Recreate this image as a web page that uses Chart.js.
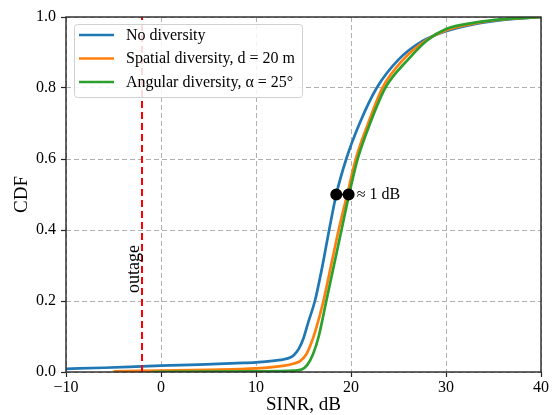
<!DOCTYPE html>
<html>
<head>
<meta charset="utf-8">
<script src="https://cdn.jsdelivr.net/npm/chart.js@4.4.1/dist/chart.umd.min.js"></script>
<style>
  html, body { margin: 0; padding: 0; background: #ffffff; }
  #wrap { width: 556px; height: 415px; }
</style>
</head>
<body>
<div id="wrap"><canvas id="cdf" width="556" height="415"></canvas></div>
<script>
// Empirical SINR CDFs (SINR in dB, cumulative probability)
const seriesNames = ['No diversity', 'Spatial diversity, d = 20 m', 'Angular diversity, \u03b1 = 25\u00b0'];
const seriesColors = ['#1f77b4', '#ff7f0e', '#2ca02c'];

const noDivSinr = [-10, -6, -2, 0, 4, 8, 10, 12, 13, 13.6, 14, 14.5, 15, 15.5, 16.2, 17.0, 17.7, 18.45, 19.5, 20.9, 22.7, 25.0, 27.5, 30, 33, 36, 40];
const noDivCdf  = [0.009, 0.012, 0.016, 0.018, 0.021, 0.025, 0.027, 0.032, 0.036, 0.041, 0.048, 0.065, 0.095, 0.14, 0.20, 0.30, 0.40, 0.50, 0.60, 0.70, 0.80, 0.88, 0.932, 0.960, 0.980, 0.992, 1.0];

const spatialSinr = [-5, 0, 5, 10, 13, 14, 14.6, 15.3, 15.8, 16.3, 17.1, 17.9, 18.7, 19.6, 20.5, 21.8, 23.3, 25.5, 28, 30, 33, 36, 40];
const spatialCdf  = [0.002, 0.004, 0.006, 0.010, 0.018, 0.024, 0.030, 0.050, 0.080, 0.12, 0.20, 0.30, 0.40, 0.50, 0.60, 0.70, 0.80, 0.88, 0.936, 0.963, 0.982, 0.993, 1.0];

const angularSinr = [-1, 5, 10, 14, 14.8, 15.4, 16.0, 16.6, 17.4, 18.2, 19.0, 19.8, 20.7, 22.0, 23.6, 26.0, 28, 30, 33, 36, 40];
const angularCdf  = [0.0, 0.001, 0.002, 0.004, 0.007, 0.02, 0.05, 0.10, 0.20, 0.30, 0.40, 0.50, 0.60, 0.70, 0.80, 0.88, 0.934, 0.966, 0.984, 0.994, 1.0];

// Outage threshold and the median-gap marker
const outageSinr = -2;
const outageLabel = 'outage';
const gapCdf = 0.5;
const gapSinr = [18.45, 19.75];
const gapLabel = '\u2248 1 dB';

// Axis ticks and titles
const xTicks = [-10, 0, 10, 20, 30, 40];
const yTicks = [0, 0.2, 0.4, 0.6, 0.8, 1.0];
const xTitle = 'SINR, dB';
const yTitle = 'CDF';

const SERIF = '"Liberation Serif", "Times New Roman", Times, serif';

const toPoints = (xs, ys) => xs.map((x, i) => ({ x: x, y: ys[i] }));
const sinrValues = [noDivSinr, spatialSinr, angularSinr];
const cdfValues = [noDivCdf, spatialCdf, angularCdf];

const curveSets = seriesNames.map((name, i) => ({
  label: name,
  data: toPoints(sinrValues[i], cdfValues[i]),
  borderColor: seriesColors[i],
  backgroundColor: seriesColors[i],
  borderWidth: 2.7,
  pointRadius: 0,
  cubicInterpolationMode: 'monotone',
  fill: false,
  order: 4 - i
}));

const outageSet = {
  label: outageLabel,
  data: [{ x: outageSinr, y: 0 }, { x: outageSinr, y: 1 }],
  borderColor: '#ff0000',
  borderWidth: 2,
  borderDash: [7, 4],
  pointRadius: 0,
  fill: false,
  order: 1
};

const gapSet = {
  label: gapLabel,
  data: gapSinr.map(x => ({ x: x, y: gapCdf })),
  borderColor: '#000000',
  backgroundColor: '#000000',
  borderWidth: 2,
  pointRadius: 5,
  pointBackgroundColor: '#000000',
  pointBorderColor: '#000000',
  fill: false,
  order: 0
};

const fmtX = v => (v < 0 ? '\u2212' + Math.abs(v) : String(v));
const fmtY = v => Number(v).toFixed(1);

// Frame, legend and text labels drawn on top of the plot
const decorations = {
  id: 'decorations',
  afterDraw(chart) {
    const ctx = chart.ctx;
    const area = chart.chartArea;
    const xs = chart.scales.x;
    const ys = chart.scales.y;

    // outage label, rotated, next to the threshold line
    ctx.save();
    ctx.fillStyle = '#000000';
    ctx.font = '18px ' + SERIF;
    ctx.translate(xs.getPixelForValue(outageSinr) - 3, ys.getPixelForValue(0.29));
    ctx.rotate(-Math.PI / 2);
    ctx.textAlign = 'center';
    ctx.textBaseline = 'alphabetic';
    ctx.fillText(outageLabel, 0, 0);
    ctx.restore();

    // gap label to the right of the second marker
    ctx.save();
    ctx.fillStyle = '#000000';
    ctx.font = '16px ' + SERIF;
    ctx.textAlign = 'left';
    ctx.textBaseline = 'middle';
    ctx.fillText(gapLabel, xs.getPixelForValue(gapSinr[1]) + 8, ys.getPixelForValue(gapCdf));
    ctx.restore();

    // axes frame
    ctx.save();
    ctx.strokeStyle = '#262626';
    ctx.lineWidth = 1.4;
    ctx.strokeRect(area.left, area.top, area.right - area.left, area.bottom - area.top);
    ctx.restore();

    // legend box
    const lx = area.left + 8, ly = area.top + 7, lw = 228, lh = 73;
    ctx.save();
    ctx.beginPath();
    if (ctx.roundRect) { ctx.roundRect(lx + 0.5, ly + 0.5, lw, lh, 3); }
    else { ctx.rect(lx + 0.5, ly + 0.5, lw, lh); }
    ctx.fillStyle = 'rgba(255,255,255,0.85)';
    ctx.fill();
    ctx.strokeStyle = '#d0d0d0';
    ctx.lineWidth = 1;
    ctx.stroke();
    ctx.font = '16px ' + SERIF;
    ctx.textBaseline = 'middle';
    ctx.textAlign = 'left';
    seriesNames.forEach((name, i) => {
      const rowY = ly + 11 + i * 23.5;
      ctx.beginPath();
      ctx.strokeStyle = seriesColors[i];
      ctx.lineWidth = 2.7;
      ctx.moveTo(lx + 5, rowY);
      ctx.lineTo(lx + 40, rowY);
      ctx.stroke();
      ctx.fillStyle = '#000000';
      ctx.fillText(name, lx + 52, rowY + 0.5);
    });
    ctx.restore();
  }
};

new Chart(document.getElementById('cdf'), {
  type: 'line',
  data: { datasets: [...curveSets, outageSet, gapSet] },
  options: {
    responsive: false,
    devicePixelRatio: 1,
    animation: false,
    layout: { padding: { top: 17, right: 15, left: 0, bottom: 0 } },
    plugins: {
      legend: { display: false },
      tooltip: { enabled: false }
    },
    scales: {
      x: {
        type: 'linear',
        min: -10,
        max: 40,
        afterBuildTicks: s => { s.ticks = xTicks.map(v => ({ value: v })); },
        afterFit: s => { s.height = 43; },
        ticks: {
          callback: v => fmtX(v),
          color: '#000000',
          font: { family: SERIF, size: 16 },
          padding: 1,
          maxRotation: 0,
          autoSkip: false
        },
        grid: {
          color: '#b0b0b0',
          lineWidth: 1,
          tickLength: 5,
          tickColor: '#262626',
          tickWidth: 1.2,
          tickBorderDash: []
        },
        border: { display: false, dash: [5, 3] },
        title: {
          display: true,
          text: xTitle,
          color: '#000000',
          font: { family: SERIF, size: 19, lineHeight: 1 },
          padding: { top: -7, bottom: 0 }
        }
      },
      y: {
        type: 'linear',
        min: 0,
        max: 1,
        afterBuildTicks: s => { s.ticks = yTicks.map(v => ({ value: v })); },
        afterFit: s => { s.width = 66; },
        ticks: {
          callback: v => fmtY(v),
          color: '#000000',
          font: { family: SERIF, size: 16 },
          padding: 5,
          autoSkip: false
        },
        grid: {
          color: '#b0b0b0',
          lineWidth: 1,
          tickLength: 5,
          tickColor: '#262626',
          tickWidth: 1.2,
          tickBorderDash: []
        },
        border: { display: false, dash: [5, 3] },
        title: {
          display: true,
          text: yTitle,
          color: '#000000',
          font: { family: SERIF, size: 19, lineHeight: 1 },
          padding: { top: 13, bottom: 0 }
        }
      }
    }
  },
  plugins: [decorations]
});
</script>
</body>
</html>
